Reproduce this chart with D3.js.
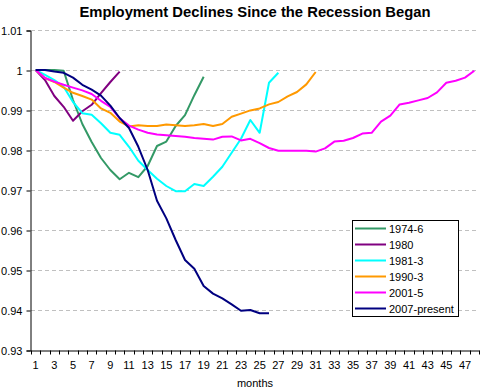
<!DOCTYPE html>
<html>
<head>
<meta charset="utf-8">
<script src="https://cdn.jsdelivr.net/npm/d3@7"></script>
<style>
  body { margin: 0; background: #fff; }
  text { font-family: Arial, "Liberation Sans", sans-serif; }
</style>
</head>
<body>
<div id="chart"></div>
<script>
// Chart size
const width = 482;
const height = 391;

// Months since the recession began (category axis)
const months = d3.range(1, 49);
const monthLabels = months.filter((m) => m % 2 === 1);

// Y tick values
const yTicks = [0.93, 0.94, 0.95, 0.96, 0.97, 0.98, 0.99, 1.0, 1.01];

// Series names and colours (legend order)
const seriesNames = ["1974-6", "1980", "1981-3", "1990-3", "2001-5", "2007-present"];
const seriesColors = ["#339966", "#800080", "#00FFFF", "#FF9900", "#FF00FF", "#000080"];

// Employment relative to the start of each recession
const s1974 = [1.0, 1.0, 1.0, 0.9998, 0.9925, 0.9865, 0.982, 0.978, 0.975, 0.9727,
  0.9743, 0.9732, 0.976, 0.981, 0.9821, 0.986, 0.9887, 0.9937, 0.9983];
const s1980 = [1.0, 0.9975, 0.9935, 0.9908, 0.9873, 0.9897, 0.9913, 0.9942, 0.997, 0.9996];
const s1981 = [1.0, 0.9988, 0.9975, 0.9958, 0.992, 0.9892, 0.9888, 0.9867, 0.9843, 0.9838,
  0.9808, 0.9773, 0.975, 0.9728, 0.971, 0.9697, 0.9697, 0.9715, 0.971, 0.9733,
  0.9758, 0.9793, 0.9828, 0.9875, 0.9843, 0.9968, 0.9993];
const s1990 = [1.0, 0.998, 0.997, 0.9956, 0.9943, 0.9935, 0.9926, 0.9904, 0.9893, 0.9871,
  0.9859, 0.9862, 0.986, 0.986, 0.9864, 0.9862, 0.986, 0.9862, 0.9865, 0.986,
  0.9865, 0.9883, 0.9891, 0.9899, 0.9904, 0.9914, 0.992, 0.9934, 0.9945, 0.9964, 0.9995];
const s2001 = [1.0, 0.998, 0.9971, 0.9963, 0.9956, 0.9949, 0.994, 0.9923, 0.9908, 0.9879,
  0.9861, 0.9851, 0.9843, 0.9839, 0.9837, 0.9835, 0.9833, 0.983, 0.9828, 0.9826,
  0.9833, 0.9834, 0.9824, 0.9828, 0.9817, 0.9805, 0.9798, 0.9798, 0.9798, 0.9798,
  0.9796, 0.9804, 0.9821, 0.9823, 0.983, 0.9841, 0.9843, 0.9871, 0.9886, 0.9914,
  0.9918, 0.9924, 0.993, 0.9944, 0.9968, 0.9973, 0.9981, 0.9998];
const s2007 = [1.0, 1.0, 0.9996, 0.9993, 0.9981, 0.9963, 0.9951, 0.9936, 0.9911, 0.988,
  0.9855, 0.9808, 0.975, 0.9673, 0.9629, 0.9575, 0.9525, 0.9503, 0.946, 0.9441,
  0.9429, 0.9414, 0.9398, 0.94, 0.9392, 0.9392];

const seriesValues = [s1974, s1980, s1981, s1990, s2001, s2007];

// Plot area
const plot = { left: 31, right: 479, top: 30, bottom: 350 };

const svg = d3
  .select("#chart")
  .append("svg")
  .attr("width", width)
  .attr("height", height);

// Scales
const x = d3.scaleBand().domain(months).range([plot.left, plot.right]);
const y = d3.scaleLinear().domain([0.93, 1.01]).range([plot.bottom, plot.top]);
const xc = (m) => x(m) + x.bandwidth() / 2;

// Dashed horizontal gridlines
svg
  .append("g")
  .selectAll("line")
  .data(yTicks.slice(1))
  .enter()
  .append("line")
  .attr("x1", plot.left)
  .attr("x2", plot.right)
  .attr("y1", (d) => Math.round(y(d)) + 0.5)
  .attr("y2", (d) => Math.round(y(d)) + 0.5)
  .attr("stroke", "#c0c0c0")
  .attr("stroke-dasharray", "4,3");

// Y axis
const yAxis = svg
  .append("g")
  .attr("transform", `translate(${plot.left - 0.5},0.5)`)
  .call(
    d3.axisLeft(y)
      .tickValues(yTicks)
      .tickSize(4)
      .tickPadding(4)
      .tickFormat((d) => String(+d.toFixed(2)))
  );
yAxis.select(".domain").attr("stroke", "#000");
yAxis.selectAll("text").style("font-size", "11px").attr("fill", "#000");

// X axis: labels on every other month, ticks between categories
const xAxis = svg
  .append("g")
  .attr("transform", `translate(0,${plot.bottom + 0.5})`)
  .call(
    d3.axisBottom(x)
      .tickValues(monthLabels)
      .tickSize(0)
      .tickPadding(11)
      .tickSizeOuter(0)
  );
xAxis.select(".domain").attr("stroke", "#000");
xAxis.selectAll("text").style("font-size", "11px").attr("fill", "#000");

xAxis
  .selectAll(".cat-tick")
  .data(months.concat([null]))
  .enter()
  .append("line")
  .attr("class", "cat-tick")
  .attr("x1", (d) => Math.round(d === null ? plot.right : x(d)) + 0.5)
  .attr("x2", (d) => Math.round(d === null ? plot.right : x(d)) + 0.5)
  .attr("y1", 0)
  .attr("y2", 4)
  .attr("stroke", "#000");

// Axis title
svg
  .append("text")
  .attr("x", (plot.left + plot.right) / 2)
  .attr("y", 387)
  .attr("text-anchor", "middle")
  .style("font-size", "11px")
  .text("months");

// Chart title
svg
  .append("text")
  .attr("x", 255)
  .attr("y", 17)
  .attr("text-anchor", "middle")
  .style("font-size", "14.8px")
  .style("font-weight", "bold")
  .text("Employment Declines Since the Recession Began");

// Lines
const line = d3
  .line()
  .x((d, i) => xc(months[i]))
  .y((d) => y(d));

svg
  .append("g")
  .selectAll("path")
  .data(seriesValues)
  .enter()
  .append("path")
  .attr("d", line)
  .attr("fill", "none")
  .attr("stroke", (d, i) => seriesColors[i])
  .attr("stroke-width", 2)
  .attr("stroke-linejoin", "round");

// Legend
const legend = svg.append("g").attr("transform", "translate(352,220)");

legend
  .append("rect")
  .attr("x", 0.5)
  .attr("y", 0.5)
  .attr("width", 106)
  .attr("height", 96)
  .attr("fill", "#fff")
  .attr("stroke", "#000");

const items = legend
  .selectAll(".item")
  .data(seriesNames)
  .enter()
  .append("g")
  .attr("class", "item")
  .attr("transform", (d, i) => `translate(0,${8.5 + i * 16})`);

items
  .append("line")
  .attr("x1", 3)
  .attr("x2", 34)
  .attr("stroke", (d, i) => seriesColors[i])
  .attr("stroke-width", 2);

items
  .append("text")
  .attr("x", 37)
  .attr("y", 4)
  .style("font-size", "11px")
  .text((d) => d);
</script>
</body>
</html>
